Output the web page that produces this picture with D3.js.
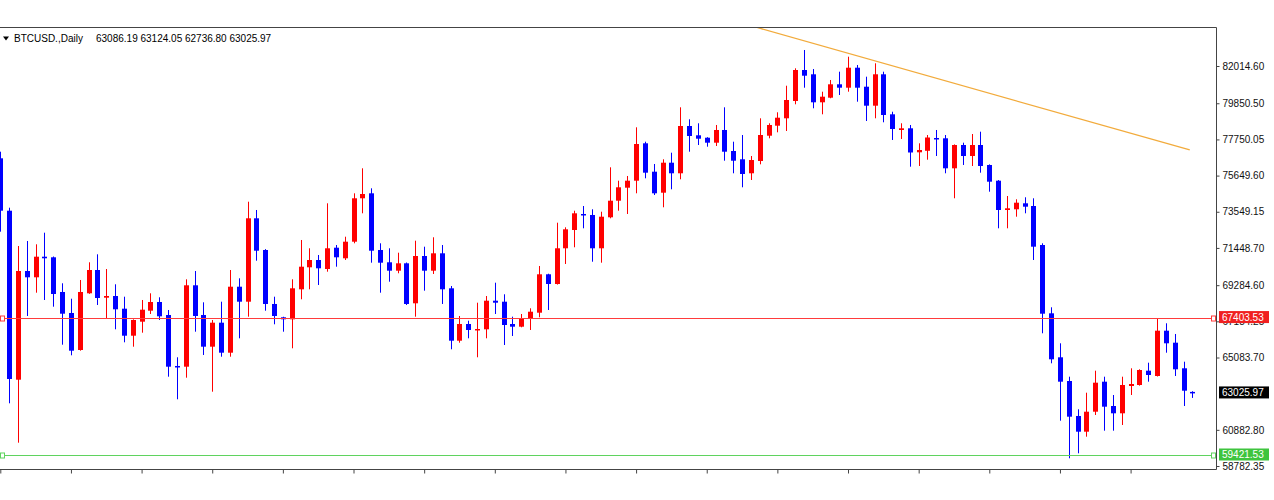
<!DOCTYPE html>
<html>
<head>
<meta charset="utf-8">
<script src="https://cdn.jsdelivr.net/npm/d3@7"></script>
<style>
  body { margin: 0; background: #fff; }
  svg { display: block; }
  text { font-family: "Liberation Sans", Arial, sans-serif; }
</style>
</head>
<body>
<div id="container"></div>
<script>
// BTCUSD daily candles (oldest first)
const opens = [76654,73610,63795,70108,69742,70939,70904,68889,67669,65520,68813,70166,68558,68656,67919,66350,67164,67802,68308,67553,
  64591,64550,69278,67553,65712,67106,65363,69196,68325,73169,71328,68192,67419,67303,69045,70323,70747,70224,71462,70846,
  71810,74331,74621,71328,70614,70126,70555,68232,70979,70126,71136,69103,66060,67030,66682,66722,68383,68325,67030,66873,
  67320,67686,69917,69353,71427,72490,73419,73361,71427,73227,74191,74946,75353,77525,75876,74656,76398,75783,78530,77990,
  77850,77560,78298,77078,76596,75783,76497,77966,78547,78977,79982,81782,81533,79906,80174,80952,80754,81916,80812,79709,
  81533,79209,78298,78396,77002,77089,77833,77815,76073,77426,76787,77426,76265,75353,73651,73692,74040,73883,71618,67651,
  65096,63719,61687,60775,61936,63679,62267,61843,63429,63487,64318,64010,66641,65944,64457,63086.19];
const highs = [77037,73785,71560,71851,71659,72333,70950,69394,68499,69586,70614,71078,70224,69336,68616,67300,68424,68813,68581,67843,
  65096,69626,70108,68290,67262,68325,70166,69684,74133,73651,71380,68616,67450,69626,71909,71427,71038,74040,71618,72100,
  74621,76073,74911,71717,71427,71171,70600,71868,71520,72066,71618,69237,67495,67222,68267,68656,69429,68755,67454,67611,
  67942,70399,69950,72914,72646,73610,73883,73692,73552,76131,75353,75626,78454,77618,76323,76596,76979,79616,78919,78687,
  77880,78588,79616,77618,78007,76787,78977,78687,79326,80870,81881,82944,81840,80522,81202,81684,82555,82073,81393,82171,
  81684,79360,78687,78588,77525,78007,78298,78007,77460,77560,78065,78199,76300,75390,74464,74273,74389,74331,71717,68000,
  65909,63969,62076,63040,64318,63969,62906,63969,64457,64399,64782,67361,67071,66449,64840,63124.05];
const lows = [72391,62424,60136,67495,68848,68424,68035,65828,65212,65480,68780,68134,67361,66722,65967,65712,66525,67611,67262,63969,
  62657,63911,66583,65230,63098,65131,65131,66199,67454,70706,67802,67013,66583,65619,68465,69045,69295,70068,70358,70747,
  71717,73459,70590,68848,69487,69975,68134,67454,68964,69934,68192,65561,65944,66199,65096,66199,67611,65810,66333,66838,
  66682,67419,67843,69320,70515,71485,72588,70648,70590,73169,73610,73419,74621,75492,74522,73808,74853,75434,77037,77426,
  77328,77368,76514,75783,74970,75394,76305,77815,78164,78239,79790,80754,79558,79209,80140,80330,80522,79941,78820,78977,
  78745,77717,77775,76166,76207,76573,76787,75783,74331,76265,76207,75818,74714,72588,72588,73262,73459,70747,66490,64747,
  61414,59230,59520,60484,61745,60833,60833,61164,62906,63450,63679,63980,65363,64010,62267,62736.80];
const closes = [73610,63836,70108,69742,70939,70846,68772,67628,65479,68889,70166,68540,68656,67884,66350,67262,67861,68308,67477,64550,
  64533,69278,67495,65712,67106,65363,69196,68325,73169,71287,68192,67495,67303,69103,70358,70747,70265,71427,70904,71810,
  74331,74580,71287,70590,70126,70555,68192,70979,70126,71136,69045,66060,67030,66682,66740,68383,68267,66972,66873,67361,
  67744,69917,69353,71427,72530,73459,73343,71427,73262,74191,74970,75353,77484,75818,74621,76398,75783,78530,77949,77792,
  77560,78298,77037,76514,75742,76554,78007,78588,79012,80040,81782,81451,79906,80232,80952,80754,81916,80754,79709,81533,
  79169,78356,78396,76991,77136,77862,77757,76073,77426,76787,77426,76207,75295,73651,73750,74075,73843,71520,67628,64980,
  63679,61646,60775,61936,63621,62227,61843,63487,63545,64358,64068,66641,65909,64399,63156,63025.97];

// price scale labels on the right
const yTicks = [82014.60, 79850.50, 77750.05, 75649.60, 73549.15, 71448.70, 69284.60,
  67184.25, 65083.70, 60882.80, 58782.35];

// horizontal levels and the trend line
const redLevel = 67403.53;
const greenLevel = 59421.53;
const trendIdx = [85.7, 134.7];
const trendPrice = [84251, 77136];

const width = 1274, height = 500;
const plotRight = 1216, plotTop = 27, plotBottom = 469;

const svg = d3.select('#container').append('svg')
    .attr('width', width)
    .attr('height', height);

svg.append('rect').attr('width', width).attr('height', height).attr('fill', '#fff');

svg.append('clipPath').attr('id', 'plot-clip')
  .append('rect')
    .attr('x', 0).attr('y', plotTop)
    .attr('width', plotRight).attr('height', plotBottom - plotTop);

const x = d3.scaleLinear().domain([0, opens.length - 1]).range([0.3, 1192.4]);
const y = d3.scaleLinear().domain([58782.35, 82014.60]).range([466, 66]);

const candles = opens.map((o, i) => ({ i, o, h: highs[i], l: lows[i], c: closes[i] }));
const colorOf = d => d.c >= d.o ? '#ff0000' : '#0000ff';

const plot = svg.append('g').attr('clip-path', 'url(#plot-clip)');

// wicks
plot.append('g').selectAll('line')
  .data(candles)
  .join('line')
    .attr('x1', d => Math.round(x(d.i)) + 0.5)
    .attr('x2', d => Math.round(x(d.i)) + 0.5)
    .attr('y1', d => y(d.h))
    .attr('y2', d => y(d.l))
    .attr('stroke', colorOf)
    .attr('stroke-width', 1);

// bodies
plot.append('g').selectAll('rect')
  .data(candles)
  .join('rect')
    .attr('x', d => Math.round(x(d.i)) - 2)
    .attr('width', 5)
    .attr('y', d => y(Math.max(d.o, d.c)))
    .attr('height', d => Math.max(1.5, Math.abs(y(d.o) - y(d.c))))
    .attr('fill', colorOf);

// level lines
function level(value, color) {
  const yy = Math.round(y(value)) + 0.5;
  plot.append('line')
    .attr('x1', 0).attr('x2', plotRight)
    .attr('y1', yy).attr('y2', yy)
    .attr('stroke', color).attr('stroke-width', 1);
  [0, plotRight - 5].forEach(px => {
    plot.append('rect')
      .attr('x', px + 0.5).attr('y', yy - 2.5)
      .attr('width', 4).attr('height', 5)
      .attr('fill', '#fff').attr('stroke', color).attr('stroke-width', 1);
  });
}
level(redLevel, '#ff3b3b');
level(greenLevel, '#5fd35f');

// trend line
plot.append('line')
    .attr('x1', x(trendIdx[0])).attr('y1', y(trendPrice[0]))
    .attr('x2', x(trendIdx[1])).attr('y2', y(trendPrice[1]))
    .attr('stroke', '#f2ab3c')
    .attr('stroke-width', 1.3);

// frame
const frame = svg.append('g').attr('stroke', '#444').attr('stroke-width', 1).attr('fill', 'none');
frame.append('path').attr('d', `M0,${plotTop + 0.5}H${plotRight + 0.5}V${plotBottom + 0.5}H0`);

// right price axis
const yAxis = svg.append('g')
    .attr('transform', `translate(${plotRight + 0.5},0)`)
    .call(d3.axisRight(y).tickValues(yTicks).tickSize(3).tickPadding(3).tickFormat(d3.format('.2f')));
yAxis.select('.domain').remove();
yAxis.selectAll('line').attr('stroke', '#444');
yAxis.selectAll('text')
    .attr('font-family', '"Liberation Sans", Arial, sans-serif')
    .attr('font-size', 10)
    .attr('fill', '#111');

// bottom time separators (every 8 bars)
const xAxis = svg.append('g')
    .attr('transform', `translate(0,${plotBottom + 0.5})`)
    .call(d3.axisBottom(x).tickValues(d3.range(0, opens.length, 8)).tickSize(4).tickFormat(''));
xAxis.select('.domain').remove();
xAxis.selectAll('line').attr('stroke', '#444');

// price tags
function tag(value, bg) {
  const yy = y(value);
  const g = svg.append('g').attr('transform', `translate(${plotRight + 3},${yy})`);
  g.append('rect')
    .attr('x', 0).attr('y', -6.5)
    .attr('width', 50).attr('height', 12)
    .attr('fill', bg);
  g.append('text')
    .attr('x', 3).attr('y', 0)
    .attr('dy', '0.34em')
    .attr('font-size', 10)
    .attr('fill', '#fff')
    .text(d3.format('.2f')(value));
}
tag(redLevel, '#f02020');
tag(closes[closes.length - 1], '#000');
tag(greenLevel, '#3ec43e');

// header
const last = candles[candles.length - 1];
svg.append('path')
    .attr('d', 'M3,36.5L9,36.5L6,40.5Z')
    .attr('fill', '#000');
svg.append('text')
    .attr('x', 14).attr('y', 42)
    .attr('font-size', 10)
    .attr('fill', '#000')
    .text('BTCUSD.,Daily');
svg.append('text')
    .attr('x', 96).attr('y', 42)
    .attr('font-size', 10)
    .attr('fill', '#000')
    .text([last.o, last.h, last.l, last.c].map(d3.format('.2f')).join(' '));
</script>
</body>
</html>
